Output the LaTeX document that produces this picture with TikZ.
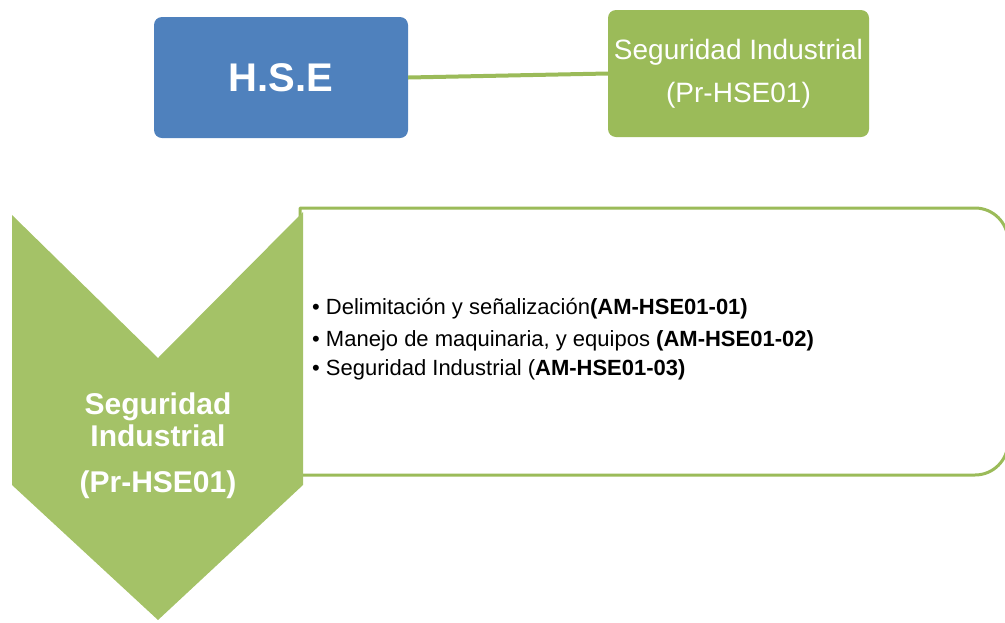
\documentclass[tikz,border=0pt]{standalone}
\usepackage{fontspec}
\setmainfont{Liberation Sans}
\usetikzlibrary{positioning}
\definecolor{hseblue}{HTML}{4F81BD}
\definecolor{hsegreen}{HTML}{9BBB59}
\definecolor{chevgreen}{HTML}{A4C267}

\begin{document}
\begin{tikzpicture}[
        x=1pt, y=-1pt, line join=round,
        topbox/.style={fill=#1, rounded corners=8pt, text=white, align=center, inner sep=0pt},
        chevtext/.style={text=white, anchor=base, font=\bfseries\fontsize{30}{34}\selectfont},
        itemtext/.style={anchor=base west, inner sep=0pt, font=\fontsize{22}{26}\selectfont},
        infobox/.style={draw=hsegreen, line width=3pt, fill=white}
    ]
    \useasboundingbox (0,0) rectangle (1005,622);
    \node[topbox=hseblue, minimum width=254pt, minimum height=121pt,
        font=\bfseries\fontsize{40}{44}\selectfont] (hse) at (281,77.5) {H.S.E};
    \node[topbox=hsegreen, minimum width=261pt, minimum height=127pt,
        font=\fontsize{28}{43}\selectfont] (segind) at (738.5,73.5) {Seguridad Industrial\\(Pr-HSE01)};
    \draw[hsegreen, line width=4pt] (hse.east) -- (segind.west);
    \draw[infobox] (300,475) -- (300,208) -- (975,208) arc[start angle=-90, end angle=0, radius=33]
        -- (1008,442) arc[start angle=0, end angle=90, radius=33] -- cycle;
    \fill[chevgreen] (12,215) -- (158,358) -- (303,212) -- (303,485) -- (158,620) -- (12,485) -- cycle;
    \node[chevtext] (chev1) at (158,414) {Seguridad};
    \node[chevtext] (chev2) at (158,446) {Industrial};
    \node[chevtext] (chev3) at (158,492) {(Pr-HSE01)};
    \node[itemtext] (item1) at (312,314) {\textbullet\ Delimitación y señalización\textbf{(AM-HSE01-01)}};
    \node[itemtext] (item2) at (312,346) {\textbullet\ Manejo de maquinaria, y equipos \textbf{(AM-HSE01-02)}};
    \node[itemtext] (item3) at (312,375) {\textbullet\ Seguridad Industrial (\textbf{AM-HSE01-03)}};
\end{tikzpicture}
\end{document}
